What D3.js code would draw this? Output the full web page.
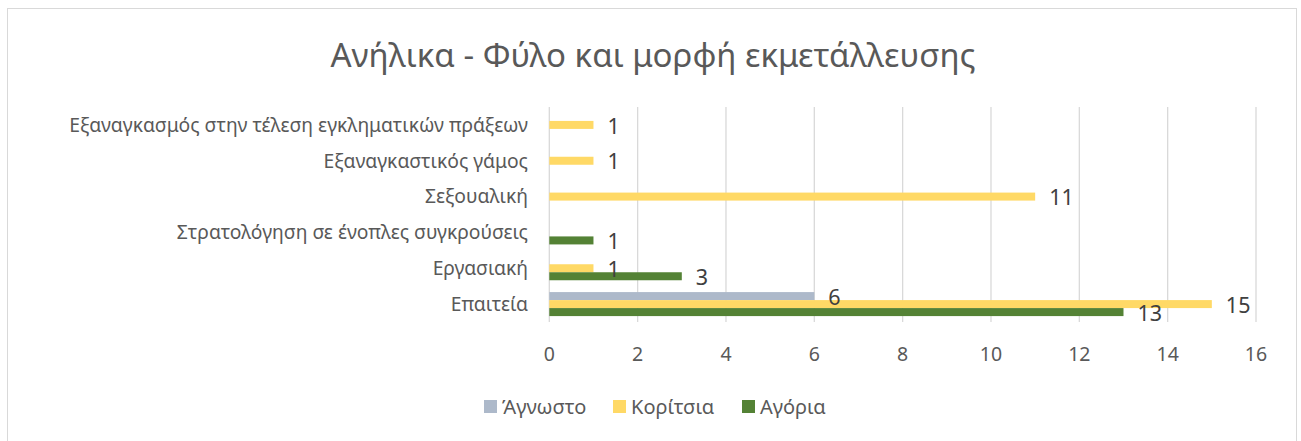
<!DOCTYPE html>
<meta charset="utf-8">
<script src="https://d3js.org/d3.v7.min.js"></script>
<style>
	body {
		margin: 0;
		background: #fff;
	}
	text {
		font-family: "Noto Sans", "Open Sans", sans-serif;
	}
	.grid line {
		stroke: #d9d9d9;
		stroke-width: 1.3px;
	}
	.tick-label {
		fill: #595959;
		font-size: 19.5px;
	}
	.cat-label {
		fill: #595959;
		font-size: 19.3px;
	}
	.value-label {
		fill: #404040;
		font-size: 21.5px;
	}
</style>
<body>
	<div id="chart"></div>
</body>
<script>
	const width = 1301, height = 441;

	// categories listed bottom to top, like the Excel chart
	const categories = [
		"Επαιτεία",
		"Εργασιακή",
		"Στρατολόγηση σε ένοπλες συγκρούσεις",
		"Σεξουαλική",
		"Εξαναγκαστικός γάμος",
		"Εξαναγκασμός στην τέλεση εγκληματικών πράξεων"
	];
	const seriesNames = ["Άγνωστο", "Κορίτσια", "Αγόρια"];
	const agnosto  = [6, null, null, null, null, null];
	const koritsia = [15, 1, null, 11, 1, 1];
	const agoria   = [13, 3, 1, null, null, null];
	const xTicks = [0, 2, 4, 6, 8, 10, 12, 14, 16];
	const title = "Ανήλικα - Φύλο και μορφή εκμετάλλευσης";

	const colors = {"Άγνωστο": "#adb9ca", "Κορίτσια": "#ffd966", "Αγόρια": "#548235"};
	const seriesValues = [agnosto, koritsia, agoria];

	const plot = {left: 549.3, right: 1256, top: 107, bottom: 322};

	const svg = d3.select("#chart").append("svg")
		.attr("width", width)
		.attr("height", height);

	// chart frame
	svg.append("rect")
		.attr("x", 7.5).attr("y", 8.5)
		.attr("width", 1289).attr("height", 450)
		.attr("fill", "#fff")
		.attr("stroke", "#d9d9d9")
		.attr("stroke-width", 1);

	const x = d3.scaleLinear()
		.domain([0, 16])
		.range([plot.left, plot.right]);

	const y = d3.scaleBand()
		.domain(categories)
		.range([plot.bottom, plot.top])
		.paddingInner(0.33)
		.paddingOuter(0.165);

	const ySub = d3.scaleBand()
		.domain(seriesNames)
		.range([0, y.bandwidth()]);

	// title
	svg.append("text")
		.attr("x", 653)
		.attr("y", 67)
		.attr("text-anchor", "middle")
		.attr("fill", "#595959")
		.style("font-size", "33px")
		.text(title);

	// vertical gridlines
	svg.append("g").attr("class", "grid")
		.selectAll("line")
		.data(xTicks)
		.enter().append("line")
		.attr("x1", d => x(d)).attr("x2", d => x(d))
		.attr("y1", plot.top).attr("y2", plot.bottom);

	// x tick labels
	svg.append("g")
		.selectAll("text")
		.data(xTicks)
		.enter().append("text")
		.attr("class", "tick-label")
		.attr("x", d => x(d))
		.attr("y", 361)
		.attr("text-anchor", "middle")
		.text(d => d);

	// category labels
	svg.append("g")
		.selectAll("text")
		.data(categories)
		.enter().append("text")
		.attr("class", "cat-label")
		.attr("x", 528)
		.attr("y", d => y(d) + y.bandwidth() / 2)
		.attr("dy", "0.35em")
		.attr("text-anchor", "end")
		.text(d => d);

	// flatten to bar records
	const bars = [];
	seriesNames.forEach(function(s, si) {
		categories.forEach(function(c, ci) {
			const v = seriesValues[si][ci];
			if (v !== null) bars.push({series: s, cat: c, value: v});
		});
	});

	svg.append("g")
		.selectAll("rect")
		.data(bars)
		.enter().append("rect")
		.attr("x", x(0))
		.attr("y", d => y(d.cat) + ySub(d.series))
		.attr("width", d => x(d.value) - x(0))
		.attr("height", ySub.bandwidth())
		.attr("fill", d => colors[d.series]);

	svg.append("g")
		.selectAll("text")
		.data(bars)
		.enter().append("text")
		.attr("class", "value-label")
		.attr("x", d => x(d.value) + 14)
		.attr("y", d => y(d.cat) + ySub(d.series) + ySub.bandwidth() / 2 + 1)
		.attr("dy", "0.36em")
		.text(d => d.value);

	// legend
	const legendX = [484, 613, 742];
	const legend = svg.append("g")
		.selectAll("g")
		.data(seriesNames)
		.enter().append("g")
		.attr("transform", (d, i) => "translate(" + legendX[i] + ",400)");

	legend.append("rect")
		.attr("width", 13).attr("height", 13)
		.attr("fill", d => colors[d]);

	legend.append("text")
		.attr("x", 18)
		.attr("y", 6.5)
		.attr("dy", "0.36em")
		.attr("fill", "#595959")
		.style("font-size", "20px")
		.text(d => d);
</script>
